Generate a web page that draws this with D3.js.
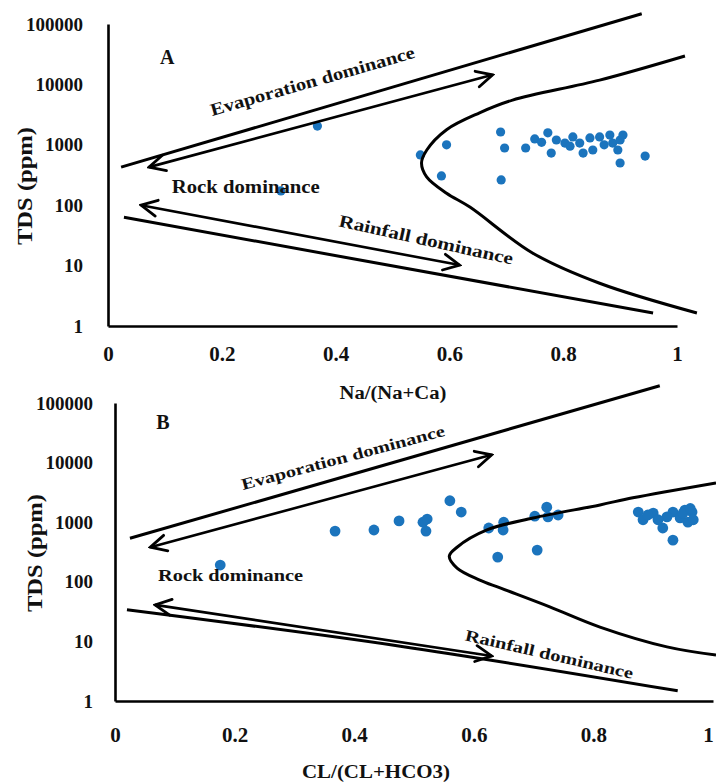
<!DOCTYPE html>
<html>
<head>
<meta charset="utf-8">
<script src="https://cdn.jsdelivr.net/npm/d3@7"></script>
<style>
  body { margin: 0; background: #ffffff; }
  svg { display: block; }
  text { font-family: "Liberation Serif", "Times New Roman", serif; font-weight: bold; fill: #111111; }
</style>
</head>
<body>
<svg id="chart" width="716" height="783"></svg>
<script>
// ---------------- data ----------------
const xTicks = [0, 0.2, 0.4, 0.6, 0.8, 1];
const yTicks = [1, 10, 100, 1000, 10000, 100000];

// Panel A: Na/(Na+Ca) vs TDS
const naRatio = [0.304, 0.368, 0.549, 0.595, 0.586, 0.690, 0.697, 0.691, 0.734, 0.750,
                 0.773, 0.779, 0.788, 0.803, 0.817, 0.829, 0.835, 0.847, 0.852, 0.864,
                 0.882, 0.887, 0.900, 0.905, 0.896, 0.900, 0.944, 0.762, 0.812, 0.872];
const naTDS   = [172, 2040, 680, 1000, 305, 1630, 885, 262, 885, 1250,
                 1580, 730, 1200, 1070, 1350, 1070, 730, 1300, 820, 1350,
                 1450, 1070, 1200, 1450, 820, 500, 650, 1100, 950, 1000];

// Panel B: CL/(CL+HCO3) vs TDS
const clRatio = [0.176, 0.368, 0.433, 0.475, 0.515, 0.522, 0.520, 0.560, 0.579, 0.625,
                 0.650, 0.649, 0.640, 0.702, 0.722, 0.724, 0.741, 0.706, 0.875, 0.883,
                 0.900, 0.916, 0.933, 0.933, 0.945, 0.953, 0.958, 0.965, 0.950, 0.923,
                 0.891, 0.908, 0.967, 0.962];
const clTDS   = [191, 710, 740, 1050, 1000, 1130, 710, 2290, 1480, 800,
                 1000, 740, 260, 1260, 1790, 1230, 1320, 340, 1480, 1100,
                 1420, 800, 500, 1480, 1180, 1600, 1000, 1480, 1420, 1230,
                 1320, 1100, 1100, 1700];

// Gibbs boundary lines  [ratio, TDS]
const evapLineA  = [[0.023, 427], [0.938, 148000]];
const evapArrowA = [[0.072, 427], [0.676, 14400]];
const rainLineA  = [[0.028, 63], [0.958, 1.64]];
const rainArrowA = [[0.058, 100], [0.618, 10.2]];
const boundaryA  = [[1.035, 1.64], [0.864, 5.1], [0.746, 16.2], [0.636, 93], [0.595, 158],
                    [0.560, 295], [0.551, 500], [0.560, 813], [0.595, 1780], [0.653, 3390],
                    [0.711, 5500], [0.864, 11750], [1.014, 29500]];

const evapLineB  = [[0.025, 537], [0.911, 195000]];
const evapArrowB = [[0.059, 380], [0.630, 13500]];
const rainLineB  = [[0.020, 34], [0.477, 8.3], [0.941, 1.48]];
const rainArrowB = [[0.067, 41], [0.630, 5.7]];
const boundaryB  = [[1.005, 5.9], [0.923, 8.1], [0.811, 17.4], [0.727, 38], [0.644, 79],
                    [0.610, 107], [0.572, 170], [0.559, 269], [0.572, 380], [0.622, 741],
                    [0.699, 1175], [0.811, 1950], [0.866, 2570], [1.005, 4570]];

const panelLabels = ["A", "B"];
const xTitles = ["Na/(Na+Ca)", "CL/(CL+HCO3)"];
const yTitle = "TDS (ppm)";
const zoneNames = ["Evaporation  dominance", "Rock dominance", "Rainfall dominance", "Evaporation dominance"];

// ---------------- layout ----------------
const panels = [
  { key: "A", xr: [108, 677], yr: [326, 24], ratio: naRatio, tds: naTDS,
    evapLine: evapLineA, evapArrow: evapArrowA, rainLine: rainLineA, rainArrow: rainArrowA, boundary: boundaryA,
    label: panelLabels[0], labelAt: [0.104, 28400], xTitle: xTitles[0], xTitleX: 393, xTitleY: 393, xTitleLen: 107,
    yTitleAt: [24, 186], xPad: 20, yPad: 25, dotR: 4.6, lastTickShift: 0,
    notes: [
      { t: zoneNames[0], at: [0.183, 3000], rot: -16, len: 212, fs: 17.5 },
      { t: zoneNames[1], at: [0.112, 160], rot: 0, len: 148, fs: 18 },
      { t: zoneNames[2], at: [0.404, 45], rot: 12.5, len: 178, fs: 17.5 }
    ] },
  { key: "B", xr: [115, 713], yr: [701, 403], ratio: clRatio, tds: clTDS,
    evapLine: evapLineB, evapArrow: evapArrowB, rainLine: rainLineB, rainArrow: rainArrowB, boundary: boundaryB,
    label: panelLabels[1], labelAt: [0.080, 48000], xTitle: xTitles[1], xTitleX: 376, xTitleY: 772, xTitleLen: 148,
    yTitleAt: [34, 553], xPad: 26, yPad: 22, dotR: 5.4, lastTickShift: -5,
    notes: [
      { t: zoneNames[3], at: [0.214, 3470], rot: -15, len: 210, fs: 16 },
      { t: zoneNames[1], at: [0.072, 103], rot: 0, len: 145, fs: 17 },
      { t: zoneNames[2], at: [0.584, 10.5], rot: 13, len: 172, fs: 16 }
    ] }
];

const svg = d3.select("#chart");
svg.append("rect").attr("width", 716).attr("height", 783).attr("fill", "#ffffff");

const defs = svg.append("defs");
defs.append("marker")
  .attr("id", "openArrow")
  .attr("viewBox", "0 0 20 20")
  .attr("refX", 18).attr("refY", 10)
  .attr("markerWidth", 20).attr("markerHeight", 20)
  .attr("markerUnits", "userSpaceOnUse")
  .attr("orient", "auto-start-reverse")
  .append("path")
  .attr("d", "M2,2 L18,10 L2,18")
  .attr("fill", "none").attr("stroke", "#000").attr("stroke-width", 2.8)
  .attr("stroke-linejoin", "miter").attr("stroke-linecap", "round");

panels.forEach(p => {
  const x = d3.scaleLinear().domain([0, 1]).range(p.xr);
  const y = d3.scaleLog().domain([1, 100000]).range(p.yr);
  const g = svg.append("g");

  // dots
  g.append("g").selectAll("circle")
    .data(p.ratio.map((r, i) => [r, p.tds[i]]))
    .join("circle")
    .attr("cx", d => x(d[0])).attr("cy", d => y(d[1]))
    .attr("r", p.dotR).attr("fill", "#1b74bd");

  // axes
  const yAxis = d3.axisLeft(y).tickValues(yTicks).tickFormat(d3.format("d"))
    .tickSize(0).tickSizeOuter(0).tickPadding(p.yPad);
  const yg = g.append("g").attr("transform", `translate(${p.xr[0]},0)`).call(yAxis);
  yg.select(".domain").attr("stroke", "#000").attr("stroke-width", 2.6);
  yg.selectAll("text").attr("font-size", 19).attr("fill", "#111");

  const xAxis = d3.axisBottom(x).tickValues(xTicks).tickFormat(d => String(d))
    .tickSize(0).tickSizeOuter(0).tickPadding(p.xPad);
  const xg = g.append("g").attr("transform", `translate(0,${p.yr[0]})`).call(xAxis);
  xg.select(".domain").attr("stroke", "#000").attr("stroke-width", 2.6);
  xg.selectAll("text").attr("font-size", 21).attr("fill", "#111")
    .attr("dx", d => (d === 1 ? p.lastTickShift : 0));

  // Gibbs boundary lines
  const straight = d3.line().x(d => x(d[0])).y(d => y(d[1]));
  const smooth = d3.line().x(d => x(d[0])).y(d => y(d[1])).curve(d3.curveCatmullRom.alpha(0.5));

  g.append("path").attr("d", straight(p.evapLine)).attr("fill", "none")
    .attr("stroke", "#000").attr("stroke-width", 3);
  g.append("path").attr("d", smooth(p.rainLine)).attr("fill", "none")
    .attr("stroke", "#000").attr("stroke-width", 3);
  g.append("path").attr("d", smooth(p.boundary)).attr("fill", "none")
    .attr("stroke", "#000").attr("stroke-width", 3);
  [p.evapArrow, p.rainArrow].forEach(a => {
    g.append("path").attr("d", straight(a)).attr("fill", "none")
      .attr("stroke", "#000").attr("stroke-width", 2.6)
      .attr("marker-start", "url(#openArrow)").attr("marker-end", "url(#openArrow)");
  });

  // annotations
  g.append("text").text(p.label)
    .attr("x", x(p.labelAt[0])).attr("y", y(p.labelAt[1]))
    .attr("text-anchor", "middle").attr("dominant-baseline", "central")
    .attr("font-size", 20);

  p.notes.forEach(n => {
    const px = x(n.at[0]), py = y(n.at[1]);
    g.append("text").text(n.t)
      .attr("transform", `translate(${px},${py}) rotate(${n.rot})`)
      .attr("font-size", n.fs)
      .attr("textLength", n.len).attr("lengthAdjust", "spacingAndGlyphs");
  });

  // axis titles
  g.append("text").text(p.xTitle)
    .attr("x", p.xTitleX).attr("y", p.xTitleY)
    .attr("text-anchor", "middle").attr("dominant-baseline", "central")
    .attr("font-size", 18)
    .attr("textLength", p.xTitleLen).attr("lengthAdjust", "spacingAndGlyphs");

  g.append("text").text(yTitle)
    .attr("transform", `translate(${p.yTitleAt[0]},${p.yTitleAt[1]}) rotate(-90)`)
    .attr("text-anchor", "middle").attr("dominant-baseline", "central")
    .attr("font-size", 22)
    .attr("textLength", 118).attr("lengthAdjust", "spacingAndGlyphs");
});
</script>
</body>
</html>
